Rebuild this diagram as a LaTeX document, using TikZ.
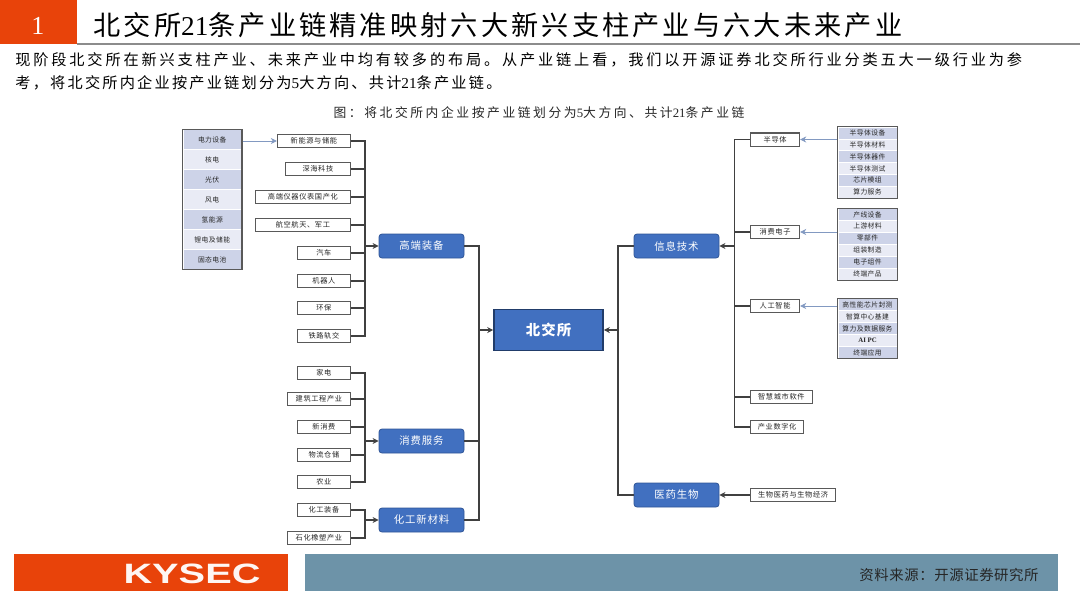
\documentclass[tikz,border=0pt]{standalone}
\usepackage{fontspec}
\usepackage{graphicx}
\setmainfont{Noto Sans CJK SC}
\newfontfamily\numfont{Liberation Serif}
\newfontfamily\logofont{Liberation Sans}
\usetikzlibrary{arrows.meta,fit}
\definecolor{kyorange}{HTML}{E8430A}
\definecolor{kyslate}{HTML}{6D93A8}
\definecolor{kyblue}{HTML}{4170C0}
\definecolor{kyedge}{HTML}{2F5597}
\definecolor{kyline}{HTML}{404040}
\definecolor{kytext}{HTML}{262626}
\definecolor{rowdark}{HTML}{CDD3E8}
\definecolor{rowlight}{HTML}{E9EBF5}
\newcommand{\pxfont}[2]{\fontsize{#1pt}{#1pt}\selectfont\addfontfeature{LetterSpace=#2}}
\tikzset{
    leaf/.style={draw=black!65,line width=.6pt,fill=white,inner sep=0pt,minimum height=6.6pt,
        text=kytext,font=\pxfont{3.6}{9}},
    branch/.style={draw=kyedge,line width=.4pt,fill=kyblue,rounded corners=1.5pt,inner sep=0pt,
        minimum width=42.5pt,minimum height=12pt,text=white,font=\pxfont{5.2}{8}},
    rootbox/.style={draw=kyedge!70!black,line width=.8pt,fill=kyblue,inner sep=0pt,
        minimum width=54.5pt,minimum height=20.5pt,text=white,font=\pxfont{7.2}{8}\bfseries},
    row/.style={draw=white,line width=.25pt,inner sep=0pt,minimum width=29.5pt,text=kytext,font=\pxfont{3.4}{6}},
    rowbox/.style={draw=black!65,line width=.7pt,inner sep=0pt},
    bus/.style={draw=kyline,line width=.75pt},
    feed/.style={bus,-{Stealth[length=3pt,width=3pt]}},
    pointer/.style={draw=kyedge!60,line width=.35pt,-{Stealth[length=3pt,width=3pt]}},
}
\begin{document}
\begin{tikzpicture}[x=.5pt,y=-.5pt]
    \useasboundingbox (0,0) rectangle (1080,607);
    % header
    \fill[black!45] (77,42.5) rectangle (1080,45);
    \fill[kyorange] (0,0) rectangle (77,44);
    \node[text=white,font=\numfont\fontsize{13}{13}\selectfont] (secno) at (38,26) {1};
    \node[anchor=west,inner sep=0pt,font=\pxfont{13.6}{11.4},text=black] (title) at (93,25)
        {北交所{\numfont 21}条产业链精准映射六大新兴支柱产业与六大未来产业};
    \node[anchor=west,inner sep=0pt,font=\pxfont{7.6}{18.6},text=black] (introa) at (15,60)
        {现阶段北交所在新兴支柱产业、未来产业中均有较多的布局。从产业链上看，我们以开源证券北交所行业分类五大一级行业为参};
    \node[anchor=west,inner sep=0pt,font=\pxfont{7.6}{14.5},text=black] (introb) at (15,83)
        {考，将北交所内企业按产业链划分为{\numfont 5}大方向、共计{\numfont 21}条产业链。};
    \node[inner sep=0pt,font=\pxfont{6.4}{20},text=kytext] (caption) at (539,113)
        {图：将北交所内企业按产业链划分为{\numfont 5}大方向、共计{\numfont 21}条产业链};
    % centre and branches
    \node[rootbox] (root) at (548.5,330) {北交所};
    \node[branch] (equip) at (421.5,246) {高端装备};
    \node[branch] (consume) at (421.5,441) {消费服务};
    \node[branch] (chem) at (421.5,520) {化工新材料};
    \node[branch] (info) at (676.5,246) {信息技术};
    \node[branch] (bio) at (676.5,495) {医药生物};
    \coordinate (busleft) at (479,330);
    \coordinate (busright) at (618,330);
    \coordinate (busequip) at (365,246);
    \coordinate (busconsume) at (365,441);
    \coordinate (buschem) at (365,520);
    \coordinate (businfo) at (734.5,246);
    \foreach \nd in {equip,consume,chem}
        \draw[bus] (\nd) -| (busleft);
    \foreach \nd in {info,bio}
        \draw[bus] (\nd) -| (busright);
    \draw[feed] (busleft) -- (root);
    \draw[feed] (busright) -- (root);
    % left leaves
    \foreach \nm/\boxw/\yy/\txt/\busname in {
        energy/73/141/新能源与储能/busequip,
        deepsea/65/169/深海科技/busequip,
        meter/95/197/高端仪器仪表国产化/busequip,
        aero/95/225/航空航天、军工/busequip,
        auto/53/253/汽车/busequip,
        robot/53/281/机器人/busequip,
        green/53/308/环保/busequip,
        rail/53/336/铁路轨交/busequip,
        home/53/373/家电/busconsume,
        build/63/399/建筑工程产业/busconsume,
        newbuy/53/427/新消费/busconsume,
        logi/53/455/物流仓储/busconsume,
        farm/53/482/农业/busconsume,
        chemeq/53/510/化工装备/buschem,
        rubber/63/538/石化橡塑产业/buschem} {
        \node[leaf,anchor=east,minimum width=\boxw*.5pt] (\nm) at (351,\yy) {\txt};
        \draw[bus] (\nm.east) -| (\busname);
    }
    \draw[feed] (busequip) -- (equip);
    \draw[feed] (busconsume) -- (consume);
    \draw[feed] (buschem) -- (chem);
    % right leaves
    \foreach \nm/\boxw/\yy/\txt in {
        semi/49/139.5/半导体,
        device/49/232/消费电子,
        aichain/49/306/人工智能,
        city/61.5/397/智慧城市软件,
        digital/53/427/产业数字化} {
        \node[leaf,anchor=west,minimum width=\boxw*.5pt] (\nm) at (750,\yy) {\txt};
        \draw[bus] (\nm.west) -| (businfo);
    }
    \draw[feed] (businfo) -- (info);
    \node[leaf,anchor=west,minimum width=42.5pt] (biochain) at (750,495) {生物医药与生物经济};
    \draw[feed] (biochain) -- (bio);
    % lists
    \foreach \i/\txt in {1/电力设备,2/核电,3/光伏,4/风电,5/氢能源,6/锂电及储能,7/固态电池} {
        \pgfmathsetmacro{\yy}{129.5+(\i-.5)*20}
        \pgfmathtruncatemacro{\isodd}{mod(\i,2)}
        \ifnum\isodd=1 \def\rowcol{rowdark}\else\def\rowcol{rowlight}\fi
        \node[row,fill=\rowcol,minimum height=10pt] (pow\i) at (212.25,\yy) {\txt};
    }
    \node[rowbox,fit=(pow1)(pow7)] (powlist) {};
    \foreach \i/\txt in {1/半导体设备,2/半导体材料,3/半导体器件,4/半导体测试,5/芯片模组,6/算力服务} {
        \pgfmathsetmacro{\yy}{127+(\i-.5)*11.83}
        \pgfmathtruncatemacro{\isodd}{mod(\i,2)}
        \ifnum\isodd=1 \def\rowcol{rowdark}\else\def\rowcol{rowlight}\fi
        \node[row,fill=\rowcol,minimum height=5.92pt] (chip\i) at (867.5,\yy) {\txt};
    }
    \node[rowbox,fit=(chip1)(chip6)] (chiplist) {};
    \foreach \i/\txt in {1/产线设备,2/上游材料,3/零部件,4/组装制造,5/电子组件,6/终端产品} {
        \pgfmathsetmacro{\yy}{208.5+(\i-.5)*11.92}
        \pgfmathtruncatemacro{\isodd}{mod(\i,2)}
        \ifnum\isodd=1 \def\rowcol{rowdark}\else\def\rowcol{rowlight}\fi
        \node[row,fill=\rowcol,minimum height=5.96pt] (elec\i) at (867.5,\yy) {\txt};
    }
    \node[rowbox,fit=(elec1)(elec6)] (eleclist) {};
    \foreach \i/\txt in {1/高性能芯片封测,2/智算中心基建,3/算力及数据服务,4/{\numfont\bfseries AI PC},5/终端应用} {
        \pgfmathsetmacro{\yy}{298.5+(\i-.5)*12}
        \pgfmathtruncatemacro{\isodd}{mod(\i,2)}
        \ifnum\isodd=1 \def\rowcol{rowdark}\else\def\rowcol{rowlight}\fi
        \node[row,fill=\rowcol,minimum height=6pt] (smart\i) at (867.5,\yy) {\txt};
    }
    \node[rowbox,fit=(smart1)(smart5)] (smartlist) {};
    \draw[pointer] (powlist.east |- energy) -- (energy);
    \draw[pointer] (chiplist.west |- semi) -- (semi);
    \draw[pointer] (eleclist.west |- device) -- (device);
    \draw[pointer] (smartlist.west |- aichain) -- (aichain);
    % footer
    \fill[kyorange] (14,554) rectangle (288,591);
    \fill[kyslate] (305,554) rectangle (1058,591);
    \node[text=white!95!kyorange,inner sep=0pt,font=\logofont\bfseries\fontsize{14}{14}\selectfont] (logo) at (192,574)
        {\scalebox{1.42}[1]{KYSEC}};
    \node[anchor=east,inner sep=0pt,font=\pxfont{7.2}{4},text=black!85] (source) at (1039,575)
        {资料来源：开源证券研究所};
\end{tikzpicture}
\end{document}
